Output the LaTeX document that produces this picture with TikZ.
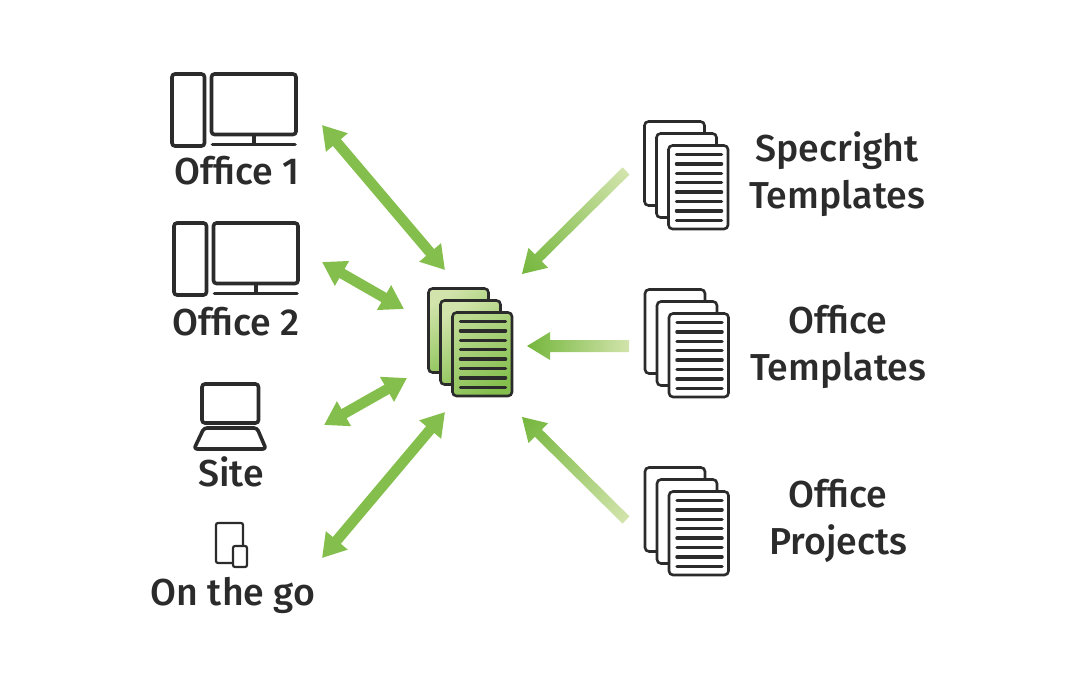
\documentclass[tikz,border=0pt]{standalone}
\usepackage{fontspec}
\setmainfont{Fira Sans Medium}
\usetikzlibrary{arrows.meta, calc, positioning}
\definecolor{ink}{HTML}{2B2B2B}
\definecolor{leaf}{HTML}{84BF4D}
\definecolor{deepleaf}{HTML}{74B63C}
\definecolor{paleleaf}{HTML}{D2E4AC}
\tikzset{
  lbl/.style={text=ink, align=center, inner sep=0pt, font=\fontsize{37.5}{47}\selectfont},
  icon/.style={draw=ink, line width=3.6pt, rounded corners=3pt},
  thin icon/.style={draw=ink, line width=2.2pt, rounded corners=2pt},
  sheet/.style={draw=ink, line width=2.6pt, rounded corners=4pt, fill=white},
  green sheet/.style={sheet, top color=#1, bottom color=leaf, shading angle=35},
  duplex/.style={draw=leaf, line width=10.5pt, {Triangle[width=27pt,length=23pt]}-{Triangle[width=27pt,length=23pt]}},
  pics/docstack/.style n args={3}{code={
    \path[#1] (0,0) rectangle (60,84);
    \path[#2] (12,12) rectangle (72,96);
    \path[#3] (24,24) rectangle (83.5,107.5);
    \foreach \k in {0,...,7}
      \draw[ink, line width=3.5pt, line cap=round] (32,{33+9.4*\k}) -- (77,{33+9.4*\k});
  }},
  pics/desktop/.style={code={
    \path[icon] (0,0) rectangle (32.5,72);
    \path[icon] (39.5,0) rectangle (124,60.5);
    \draw[ink, line width=3.6pt] (82,60.5) -- (82,70.5);
    \draw[ink, line width=3.6pt, line cap=round] (40.5,70.5) -- (123,70.5);
  }}
}
% shaded arrow from tail to tip
\newcommand{\fadearrow}[3]{
  \path let \p1=($(#2)-(#1)$), \n1={atan2(\y1,\x1)}, \n2={veclen(\x1,\y1)} in
    \pgfextra{\xdef\fadeang{\n1}\xdef\fadelen{\n2}};
  \begin{scope}[transform canvas={shift={(#1)},rotate=\fadeang}]
    \shade[left color=paleleaf, right color=deepleaf]
      (0,-#3) -- (\fadelen-23pt,-#3) -- (\fadelen-23pt,-14) -- (\fadelen,0)
      -- (\fadelen-23pt,14) -- (\fadelen-23pt,#3) -- (0,#3) -- cycle;
  \end{scope}
}
\begin{document}
\begin{tikzpicture}[x=1pt,y=-1pt]
\useasboundingbox (0,0) rectangle (1076,687);

% left column
\pic at (172,74) {desktop};
\pic at (174,223) {desktop};
\path[icon] (202,384) rectangle (258.5,423);
\path[icon, line join=round] (204,428) -- (257,428) -- (266,449) -- (194,449) -- cycle;
\path[thin icon] (216,523) rectangle (243,563);
\path[thin icon, fill=white] (233,546) rectangle (247,567);
\node[lbl] (office1) at (237,171) {Office 1};
\node[lbl] (office2) at (236,322) {Office 2};
\node[lbl] (site) at (231,472) {Site};
\node[lbl] (onthego) at (233,595) {On the go};

% right column
\pic at (644.5,121.5) {docstack={sheet}{sheet}{sheet}};
\pic at (645,289.5) {docstack={sheet}{sheet}{sheet}};
\pic at (645,467.5) {docstack={sheet}{sheet}{sheet}};
\node[lbl] (specright) at (837,174) {Specright\\Templates};
\node[lbl] (officetpl) at (838,346.5) {Office\\Templates};
\node[lbl] (officeprj) at (838,520.5) {Office\\Projects};

% hub
\pic at (428.5,288.5) {docstack={green sheet=paleleaf}{green sheet=paleleaf}{green sheet=paleleaf!70!leaf}};

% arrow ends
\coordinate (a1) at (322,125); \coordinate (b1) at (445,270);
\coordinate (a2) at (322,262); \coordinate (b2) at (404,309);
\coordinate (a3) at (324,425); \coordinate (b3) at (407,378);
\coordinate (a4) at (322,558); \coordinate (b4) at (445,412);
\coordinate (c1) at (626,171); \coordinate (d1) at (522,274);
\coordinate (c2) at (629,346); \coordinate (d2) at (527,346);
\coordinate (c3) at (626,520); \coordinate (d3) at (522,417);

\draw[duplex] (a1) -- (b1);
\draw[duplex] (a2) -- (b2);
\draw[duplex] (a3) -- (b3);
\draw[duplex] (a4) -- (b4);
\fadearrow{c1}{d1}{5}
\fadearrow{c2}{d2}{6}
\fadearrow{c3}{d3}{5}
\end{tikzpicture}
\end{document}
